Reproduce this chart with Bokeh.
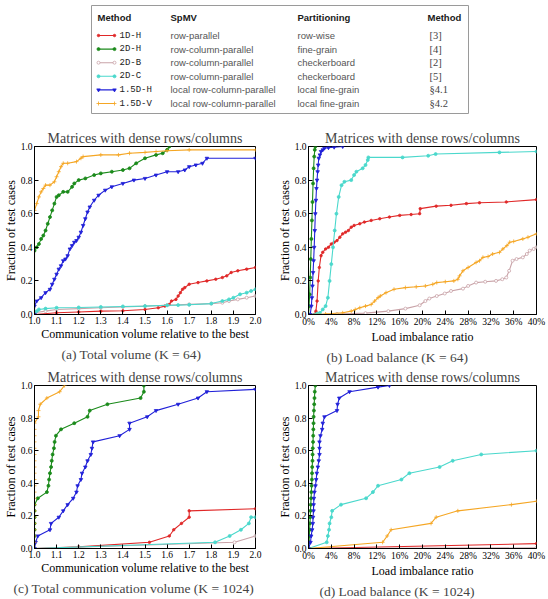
from bokeh.plotting import figure
from bokeh.models import Range1d, FixedTicker, Title
from bokeh.layouts import column, row
from bokeh.embed import file_html
from bokeh.resources import INLINE
from bokeh.core.properties import value

SERIF = "Liberation Serif"
SANS = "Liberation Sans"
MONO = "Liberation Mono"

# ---------------- legend table ----------------
methods = ["1D-H", "2D-H", "2D-B", "2D-C", "1.5D-H", "1.5D-V"]
spmv = ["row-parallel", "row-column-parallel", "row-column-parallel",
        "row-column-parallel", "local row-column-parallel", "local row-column-parallel"]
partitioning = ["row-wise", "fine-grain", "checkerboard", "checkerboard",
                "local fine-grain", "local fine-grain"]
refs = ["[3]", "[4]", "[2]", "[5]", "§4.1", "§4.2"]
headers = ["Method", "SpMV", "Partitioning", "Method"]

COLORS = {"1D-H": "#e02828", "2D-H": "#1a8a1a", "2D-B": "#c9a3a8",
          "2D-C": "#4ad8cc", "1.5D-H": "#2020d8", "1.5D-V": "#f5a623"}
MARKERS = {"1D-H": "circle", "2D-H": "circle", "2D-B": "circle",
           "2D-C": "circle", "1.5D-H": "inverted_triangle", "1.5D-V": "cross"}
FILLS = {"1D-H": "#e02828", "2D-H": "#1a8a1a", "2D-B": "white",
         "2D-C": "#4ad8cc", "1.5D-H": "#2020d8", "1.5D-V": "#f5a623"}
SIZES = {"1D-H": 2.5, "2D-H": 3, "2D-B": 3, "2D-C": 3, "1.5D-H": 3.5, "1.5D-V": 4}
DRAW_ORDER = ["1D-H", "2D-B", "2D-C", "2D-H", "1.5D-H", "1.5D-V"]

# ---------------- axes ----------------
vol_ticks = [1.0, 1.1, 1.2, 1.3, 1.4, 1.5, 1.6, 1.7, 1.8, 1.9, 2.0]
vol_labels = ["1.0", "1.1", "1.2", "1.3", "1.4", "1.5", "1.6", "1.7", "1.8", "1.9", "2.0"]
lb_ticks = [0, 4, 8, 12, 16, 20, 24, 28, 32, 36, 40]
lb_labels = ["0%", "4%", "8%", "12%", "16%", "20%", "24%", "28%", "32%", "36%", "40%"]
y_ticks = [0.0, 0.2, 0.4, 0.6, 0.8, 1.0]
y_labels = ["0.0", "0.2", "0.4", "0.6", "0.8", "1.0"]

# ---------------- (a) total volume, K=64 ----------------
a_1DH_x = [1.00, 1.10, 1.20, 1.30, 1.40, 1.50, 1.56, 1.59, 1.61, 1.62, 1.64, 1.65, 1.66, 1.67,
           1.68, 1.70, 1.74, 1.78, 1.82, 1.85, 1.87, 1.89, 1.92, 1.96, 2.00]
a_1DH_y = [0.00, 0.01, 0.015, 0.02, 0.022, 0.03, 0.04, 0.05, 0.06, 0.08, 0.09, 0.11, 0.13, 0.15,
           0.16, 0.18, 0.19, 0.20, 0.21, 0.22, 0.23, 0.25, 0.26, 0.27, 0.28]
a_2DB_x = [1.00, 1.05, 1.10, 1.20, 1.30, 1.40, 1.50, 1.60, 1.70, 1.80, 1.85, 1.88, 1.92, 1.96, 2.00]
a_2DB_y = [0.01, 0.02, 0.03, 0.035, 0.04, 0.045, 0.05, 0.055, 0.06, 0.065, 0.07, 0.08, 0.09, 0.10, 0.11]
a_2DC_x = [1.00, 1.01, 1.02, 1.05, 1.10, 1.20, 1.30, 1.40, 1.50, 1.60, 1.65, 1.70, 1.80, 1.85,
           1.88, 1.90, 1.93, 1.96, 1.98, 2.00]
a_2DC_y = [0.00, 0.02, 0.03, 0.035, 0.04, 0.042, 0.045, 0.048, 0.05, 0.055, 0.056, 0.058, 0.065,
           0.08, 0.09, 0.10, 0.12, 0.13, 0.14, 0.15]
a_2DH_x = [1.00, 1.00, 1.01, 1.02, 1.03, 1.04, 1.05, 1.06, 1.07, 1.08, 1.09, 1.10, 1.11, 1.13,
           1.15, 1.17, 1.18, 1.20, 1.23, 1.27, 1.30, 1.35, 1.40, 1.43, 1.46, 1.50, 1.55, 1.58,
           1.60, 1.61]
a_2DH_y = [0.00, 0.38, 0.40, 0.42, 0.45, 0.47, 0.50, 0.54, 0.58, 0.62, 0.66, 0.70, 0.71, 0.73,
           0.73, 0.76, 0.78, 0.80, 0.81, 0.83, 0.84, 0.85, 0.86, 0.87, 0.90, 0.93, 0.95, 0.96,
           0.98, 1.00]
a_15DH_x = [1.00, 1.00, 1.01, 1.03, 1.05, 1.07, 1.08, 1.09, 1.10, 1.11, 1.12, 1.13, 1.14, 1.15,
            1.16, 1.17, 1.18, 1.19, 1.20, 1.21, 1.22, 1.23, 1.24, 1.25, 1.27, 1.29, 1.32, 1.35,
            1.40, 1.45, 1.50, 1.55, 1.60, 1.65, 1.68, 1.70, 1.73, 1.76, 1.78, 2.00]
a_15DH_y = [0.00, 0.05, 0.08, 0.10, 0.13, 0.15, 0.18, 0.21, 0.24, 0.27, 0.29, 0.32, 0.33, 0.35,
            0.39, 0.41, 0.43, 0.44, 0.46, 0.49, 0.53, 0.57, 0.61, 0.64, 0.68, 0.71, 0.74, 0.76,
            0.78, 0.80, 0.81, 0.83, 0.85, 0.85, 0.86, 0.88, 0.89, 0.90, 0.93, 0.93]
a_15DV_x = [1.00, 1.00, 1.01, 1.02, 1.03, 1.04, 1.05, 1.07, 1.09, 1.10, 1.11, 1.12, 1.13, 1.15,
            1.19, 1.21, 1.22, 1.30, 1.38, 1.43, 1.50, 1.55, 1.60, 1.70, 2.00]
a_15DV_y = [0.00, 0.62, 0.66, 0.70, 0.73, 0.75, 0.77, 0.77, 0.79, 0.82, 0.85, 0.88, 0.90, 0.90,
            0.91, 0.93, 0.94, 0.95, 0.95, 0.96, 0.965, 0.97, 0.975, 0.98, 0.98]

# ---------------- (b) load balance, K=64 ----------------
b_1DH_x = [0, 1.0, 1.3, 1.5, 1.7, 1.9, 2.2, 2.5, 3.0, 3.5, 4.0, 4.5, 5.0, 5.5, 6.0, 6.5, 7.0,
           7.5, 8.0, 9.0, 9.8, 11.0, 12.5, 14.2, 16.0, 18.0, 19.5, 19.6, 22.4, 25.0, 27.7, 30.0,
           34.7, 40.0]
b_1DH_y = [0, 0.0, 0.02, 0.08, 0.20, 0.28, 0.35, 0.37, 0.39, 0.40, 0.42, 0.43, 0.44, 0.46, 0.48,
           0.49, 0.50, 0.52, 0.53, 0.54, 0.55, 0.56, 0.57, 0.58, 0.59, 0.595, 0.60, 0.63, 0.645,
           0.65, 0.66, 0.665, 0.67, 0.684]
b_2DB_x = [0, 5, 10, 14, 17, 19.5, 20.5, 21.2, 22.5, 23.9, 25, 27.1, 28, 29.4, 31, 32.9, 34.0,
           34.7, 35.2, 35.8, 36.5, 37.6, 38.3, 38.8, 39.5, 40]
b_2DB_y = [0, 0.003, 0.008, 0.02, 0.035, 0.055, 0.08, 0.095, 0.11, 0.125, 0.14, 0.154, 0.17,
           0.19, 0.195, 0.20, 0.21, 0.22, 0.26, 0.32, 0.33, 0.34, 0.36, 0.38, 0.39, 0.40]
b_2DC_x = [0, 1.5, 2.0, 2.5, 3.0, 3.4, 3.7, 4.0, 4.3, 4.6, 4.9, 5.3, 5.8, 6.3, 7.5, 8.0, 8.4,
           9.5, 10.0, 10.4, 10.5, 16.5, 21.0, 22.3, 33.5, 40.0]
b_2DC_y = [0, 0.005, 0.01, 0.03, 0.05, 0.10, 0.20, 0.30, 0.40, 0.50, 0.60, 0.70, 0.77, 0.79,
           0.80, 0.83, 0.85, 0.87, 0.89, 0.92, 0.935, 0.935, 0.945, 0.955, 0.965, 0.97]
b_2DH_x = [0, 0.1, 0.2, 0.3, 0.4, 0.5, 0.6, 0.7, 0.8, 0.9, 1.0, 1.1, 1.2]
b_2DH_y = [0, 0.05, 0.12, 0.22, 0.33, 0.45, 0.56, 0.67, 0.78, 0.87, 0.94, 0.98, 1.0]
b_15DH_x = [0, 0.3, 0.5, 0.6, 0.7, 0.8, 0.9, 1.0, 1.1, 1.2, 1.3, 1.4, 1.5, 1.6, 1.7, 1.8, 2.0,
            2.2, 2.5, 2.8, 3.5, 4.5, 6.0]
b_15DH_y = [0, 0.0, 0.05, 0.10, 0.17, 0.25, 0.32, 0.40, 0.50, 0.60, 0.68, 0.75, 0.80, 0.85,
            0.89, 0.93, 0.95, 0.97, 0.98, 0.99, 0.993, 0.996, 1.0]
b_15DV_x = [0, 3, 6, 7.5, 8.2, 9.0, 10.0, 11.0, 11.6, 12.2, 12.6, 13.6, 15.0, 17.0, 18.9, 20.5,
            21.8, 22.5, 24.0, 25.5, 26.2, 26.5, 27.1, 28.0, 29.4, 30.0, 30.6, 31.5, 32.3, 33.5,
            34.1, 34.8, 35.3, 36.0, 37.6, 38.5, 40.0]
b_15DV_y = [0, 0.003, 0.01, 0.02, 0.03, 0.04, 0.05, 0.06, 0.08, 0.10, 0.11, 0.13, 0.15, 0.16,
            0.165, 0.17, 0.18, 0.19, 0.195, 0.20, 0.21, 0.23, 0.26, 0.28, 0.31, 0.32, 0.34, 0.345,
            0.36, 0.37, 0.39, 0.41, 0.43, 0.435, 0.45, 0.46, 0.48]

# ---------------- (c) total communication volume, K=1024 ----------------
c_1DH_x = [1.0, 1.2, 1.52, 1.61, 1.63, 1.665, 1.70, 1.70, 2.0]
c_1DH_y = [0.0, 0.01, 0.038, 0.077, 0.115, 0.154, 0.192, 0.231, 0.244]
c_2DB_x = [1.0, 1.905, 2.0]
c_2DB_y = [0.0, 0.038, 0.077]
c_2DC_x = [1.0, 1.817, 1.883, 1.934, 1.97, 1.98, 2.0]
c_2DC_y = [0.0, 0.038, 0.077, 0.115, 0.154, 0.192, 0.192]
c_2DH_x = [1.0, 1.0, 1.0, 1.0, 1.0, 1.0, 1.0, 1.0, 1.015, 1.056, 1.063, 1.066, 1.07, 1.075,
           1.078, 1.082, 1.088, 1.091, 1.097, 1.12, 1.18, 1.24, 1.25, 1.33, 1.48, 1.495, 1.495]
c_2DH_y = [0.0, 0.038, 0.077, 0.115, 0.154, 0.192, 0.231, 0.269, 0.308, 0.346, 0.385, 0.423,
           0.462, 0.500, 0.538, 0.577, 0.615, 0.654, 0.692, 0.731, 0.769, 0.808, 0.846, 0.885,
           0.923, 0.962, 1.000]
c_15DH_x = [1.0, 1.005, 1.015, 1.07, 1.075, 1.11, 1.13, 1.15, 1.175, 1.19, 1.195, 1.21, 1.215,
            1.23, 1.24, 1.255, 1.26, 1.265, 1.385, 1.43, 1.43, 1.51, 1.55, 1.65, 1.74, 1.78, 2.0]
c_15DH_y = [0.0, 0.038, 0.077, 0.115, 0.154, 0.192, 0.231, 0.269, 0.308, 0.346, 0.385, 0.423,
            0.462, 0.500, 0.538, 0.577, 0.615, 0.654, 0.692, 0.731, 0.769, 0.808, 0.846, 0.885,
            0.923, 0.962, 0.976]
c_15DV_x = [1.0, 1.0, 1.0, 1.0, 1.0, 1.0, 1.0, 1.0, 1.0, 1.0, 1.0, 1.0, 1.0, 1.0, 1.0, 1.0,
            1.0, 1.0, 1.0, 1.0, 1.0, 1.018, 1.018, 1.026, 1.056, 1.114, 1.136]
c_15DV_y = [0.0, 0.038, 0.077, 0.115, 0.154, 0.192, 0.231, 0.269, 0.308, 0.346, 0.385, 0.423,
            0.462, 0.500, 0.538, 0.577, 0.615, 0.654, 0.692, 0.731, 0.769, 0.808, 0.846, 0.885,
            0.923, 0.962, 1.000]

# ---------------- (d) load balance, K=1024 ----------------
d_1DH_x = [0, 40]
d_1DH_y = [0, 0.03]
d_2DB_x = [0, 40]
d_2DB_y = [0, 0.004]
d_2DC_x = [0, 3.2, 3.4, 3.6, 3.7, 4.0, 4.15, 5.7, 10.1, 11.3, 12.2, 16.3, 17.7, 23.0, 25.3,
           30.3, 40.0]
d_2DC_y = [0, 0.038, 0.077, 0.115, 0.154, 0.192, 0.231, 0.269, 0.308, 0.346, 0.385, 0.423,
           0.462, 0.500, 0.538, 0.577, 0.60]
d_2DH_x = [0, 0.1, 0.15, 0.2, 0.25, 0.3, 0.35, 0.4, 0.45, 0.5, 0.55, 0.6, 0.62, 0.65, 0.7, 0.72,
           0.75, 0.8, 0.82, 0.85, 0.88, 0.9, 0.95, 1.0, 1.05, 1.1, 1.2]
d_2DH_y = [0.0, 0.038, 0.077, 0.115, 0.154, 0.192, 0.231, 0.269, 0.308, 0.346, 0.385, 0.423,
           0.462, 0.500, 0.538, 0.577, 0.615, 0.654, 0.692, 0.731, 0.769, 0.808, 0.846, 0.885,
           0.923, 0.962, 1.000]
d_15DH_x = [0, 0.35, 0.47, 0.64, 0.76, 0.8, 0.88, 0.9, 0.95, 1.05, 1.23, 1.35, 1.46, 1.64, 1.8,
            1.93, 1.93, 1.93, 2.1, 2.4, 2.5, 2.8, 5.0, 5.1, 5.4, 7.2, 12.2, 14.2]
d_15DH_y = [0.0, 0.038, 0.077, 0.115, 0.154, 0.192, 0.231, 0.269, 0.308, 0.346, 0.385, 0.423,
            0.462, 0.500, 0.538, 0.577, 0.615, 0.654, 0.692, 0.731, 0.769, 0.808, 0.846, 0.885,
            0.923, 0.962, 0.99, 1.000]
d_15DV_x = [0, 13.0, 13.8, 14.5, 21.5, 22.4, 26.2, 35.6, 40.0]
d_15DV_y = [0, 0.038, 0.077, 0.115, 0.154, 0.192, 0.231, 0.269, 0.29]

panel_a = {"1D-H": (a_1DH_x, a_1DH_y), "2D-B": (a_2DB_x, a_2DB_y), "2D-C": (a_2DC_x, a_2DC_y),
           "2D-H": (a_2DH_x, a_2DH_y), "1.5D-H": (a_15DH_x, a_15DH_y), "1.5D-V": (a_15DV_x, a_15DV_y)}
panel_b = {"1D-H": (b_1DH_x, b_1DH_y), "2D-B": (b_2DB_x, b_2DB_y), "2D-C": (b_2DC_x, b_2DC_y),
           "2D-H": (b_2DH_x, b_2DH_y), "1.5D-H": (b_15DH_x, b_15DH_y), "1.5D-V": (b_15DV_x, b_15DV_y)}
panel_c = {"1D-H": (c_1DH_x, c_1DH_y), "2D-B": (c_2DB_x, c_2DB_y), "2D-C": (c_2DC_x, c_2DC_y),
           "2D-H": (c_2DH_x, c_2DH_y), "1.5D-H": (c_15DH_x, c_15DH_y), "1.5D-V": (c_15DV_x, c_15DV_y)}
panel_d = {"1D-H": (d_1DH_x, d_1DH_y), "2D-B": (d_2DB_x, d_2DB_y), "2D-C": (d_2DC_x, d_2DC_y),
           "2D-H": (d_2DH_x, d_2DH_y), "1.5D-H": (d_15DH_x, d_15DH_y), "1.5D-V": (d_15DV_x, d_15DV_y)}

PANEL_TITLE = "Matrices with dense rows/columns"
Y_LABEL = "Fraction of test cases"
VOL_LABEL = "Communication volume relative to the best"
LB_LABEL = "Load imbalance ratio"
captions = ["(a) Total volume (K = 64)", "(b) Load balance (K = 64)",
            "(c) Total communication volume (K = 1024)", "(d) Load balance (K = 1024)"]


def style_axis(ax, ticks, labels):
    ax.ticker = FixedTicker(ticks=ticks)
    ax.major_label_overrides = {t: l for t, l in zip(ticks, labels)}
    ax.major_tick_in = 4
    ax.major_tick_out = 0
    ax.minor_tick_line_color = None
    ax.major_tick_line_color = "black"
    ax.axis_line_color = "black"
    ax.major_label_text_font = SERIF
    ax.major_label_text_font_size = "9.5px"
    ax.major_label_text_color = "black"
    ax.major_label_standoff = 2
    ax.axis_label_text_font = SERIF
    ax.axis_label_text_font_size = "12px"
    ax.axis_label_text_font_style = "normal"
    ax.axis_label_text_color = "black"
    ax.axis_label_standoff = 0


def make_panel(data, xr, xticks, xlabels, xlabel, caption, cap_offset, height, top, bottom, left, right):
    p = figure(width=274, height=height, x_range=Range1d(*xr), y_range=Range1d(0, 1),
               output_backend="svg", toolbar_location=None,
               min_border_top=top, min_border_bottom=bottom,
               min_border_left=left, min_border_right=right)
    p.title.text = PANEL_TITLE
    p.title.align = "center"
    p.title.text_font = SERIF
    p.title.text_font_size = "14px"
    p.title.text_font_style = "normal"
    p.title.standoff = 2
    p.xgrid.visible = False
    p.ygrid.visible = False
    p.outline_line_color = "black"
    p.outline_line_alpha = 1
    style_axis(p.xaxis[0], xticks, xlabels)
    style_axis(p.yaxis[0], y_ticks, y_labels)
    p.xaxis.axis_label = xlabel
    p.yaxis.axis_label = Y_LABEL
    for key in DRAW_ORDER:
        xs, ys = data[key]
        c = COLORS[key]
        p.line(xs, ys, line_color=c, line_width=1.1)
        p.scatter(xs, ys, marker=MARKERS[key], size=SIZES[key], line_color=c,
                  fill_color=FILLS[key], line_width=0.8)
    cap = Title(text=caption, align="left", offset=cap_offset, text_font=SERIF,
                text_font_size="13.5px", text_font_style="normal", standoff=2)
    p.add_layout(cap, "below")
    return p


pa = make_panel(panel_a, (1.0, 2.0), vol_ticks, vol_labels, VOL_LABEL, captions[0], 27,
                245, 26, 51, 27, 19)
pb = make_panel(panel_b, (0, 40), lb_ticks, lb_labels, LB_LABEL, captions[1], 18,
                245, 26, 51, 33, 12)
pc = make_panel(panel_c, (1.0, 2.0), vol_ticks, vol_labels, VOL_LABEL, captions[2], -21,
                234, 20, 46, 27, 19)
pd = make_panel(panel_d, (0, 40), lb_ticks, lb_labels, LB_LABEL, captions[3], 11,
                234, 20, 46, 33, 12)

# ---------------- legend figure ----------------
leg = figure(width=548, height=120, x_range=Range1d(0, 548), y_range=Range1d(120, 0),
             output_backend="svg", toolbar_location=None, x_axis_type=None, y_axis_type=None,
             min_border=0, outline_line_color=None)
leg.quad(left=[91], right=[468], top=[5], bottom=[113], fill_color="white",
         line_color="#9a9a9a", line_width=1)
col_x = [97, 170, 297, 427]
leg.text(x=col_x, y=[17] * 4, text=headers, text_font=value(SANS), text_font_style="bold",
         text_font_size="9.5px", text_baseline="middle", text_color="#1a1a1a")
row_y = [35 + 13.6 * i for i in range(len(methods))]
for i, m in enumerate(methods):
    yy = row_y[i]
    leg.line([98, 114], [yy, yy], line_color=COLORS[m], line_width=1.1)
    leg.scatter([98, 114], [yy, yy], marker=MARKERS[m], size=SIZES[m], line_color=COLORS[m],
                fill_color=FILLS[m], line_width=0.8)
leg.text(x=[119] * 6, y=row_y, text=methods, text_font=value(MONO), text_font_size="9px",
         text_baseline="middle", text_color="#222222")
leg.text(x=[170] * 6, y=row_y, text=spmv, text_font=value(SANS), text_font_size="9.5px",
         text_baseline="middle", text_color="#555555")
leg.text(x=[297] * 6, y=row_y, text=partitioning, text_font=value(SANS), text_font_size="9.5px",
         text_baseline="middle", text_color="#555555")
leg.text(x=[429] * 6, y=row_y, text=refs, text_font=value(SERIF), text_font_size="10.5px",
         text_baseline="middle", text_color="#444444")

layout = column(leg, row(pa, pb), row(pc, pd))
open("out.html", "w").write(file_html(layout, INLINE))
